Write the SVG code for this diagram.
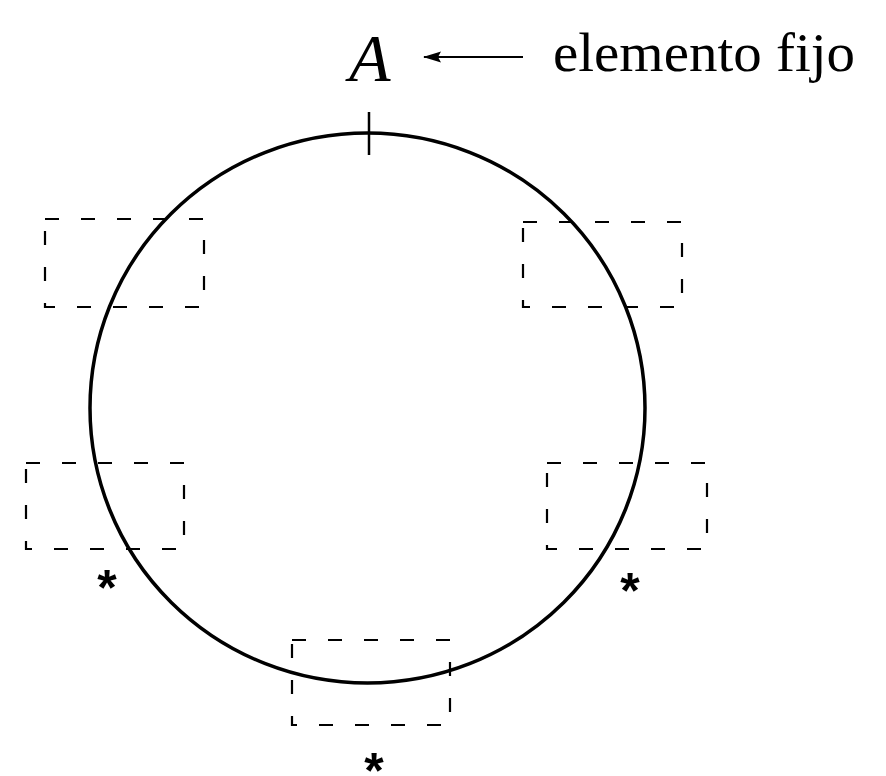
<svg xmlns="http://www.w3.org/2000/svg" width="886" height="776" viewBox="0 0 886 776">
<style>
.box{fill:none;stroke:#000;stroke-width:2.2;stroke-dasharray:14 22}
.star{font-family:"Liberation Sans",sans-serif;font-size:50px;font-weight:bold;text-anchor:middle}
</style>
<defs>
<marker id="ah" viewBox="0 0 18 12" refX="17" refY="6" markerWidth="18" markerHeight="12" orient="auto" markerUnits="userSpaceOnUse">
<path d="M18,6 L0,0.5 L3,6 L0,11.5 Z" fill="#000"/>
</marker>
</defs>
<rect width="886" height="776" fill="#fff"/>
<g id="ring">
<ellipse cx="367.5" cy="408" rx="277.5" ry="275" fill="none" stroke="#000" stroke-width="3.5"/>
<line x1="369" y1="112" x2="369" y2="155" stroke="#000" stroke-width="2.5"/>
</g>
<g id="labelA">
<text x="349" y="81" font-family="Liberation Serif,serif" font-style="italic" font-size="68">A</text>
</g>
<g id="label-fixed">
<text x="553" y="71" font-family="Liberation Serif,serif" font-size="54" textLength="302" lengthAdjust="spacingAndGlyphs">elemento fijo</text>
</g>
<g id="connectors">
<line x1="523" y1="57" x2="424" y2="57" stroke="#000" stroke-width="2" marker-end="url(#ah)"/>
</g>
<g id="box1"><rect class="box" x="45" y="219" width="159" height="88"/></g>
<g id="box2"><rect class="box" x="523" y="222" width="159" height="85"/></g>
<g id="box3"><rect class="box" x="26" y="463" width="158" height="86"/></g>
<g id="box4"><rect class="box" x="547" y="463" width="160" height="86"/></g>
<g id="box5"><rect class="box" x="292" y="640" width="158" height="85"/></g>
<g id="stars">
<text class="star" x="107" y="605">*</text>
<text class="star" x="630" y="608">*</text>
<text class="star" x="374" y="788">*</text>
</g>
</svg>
